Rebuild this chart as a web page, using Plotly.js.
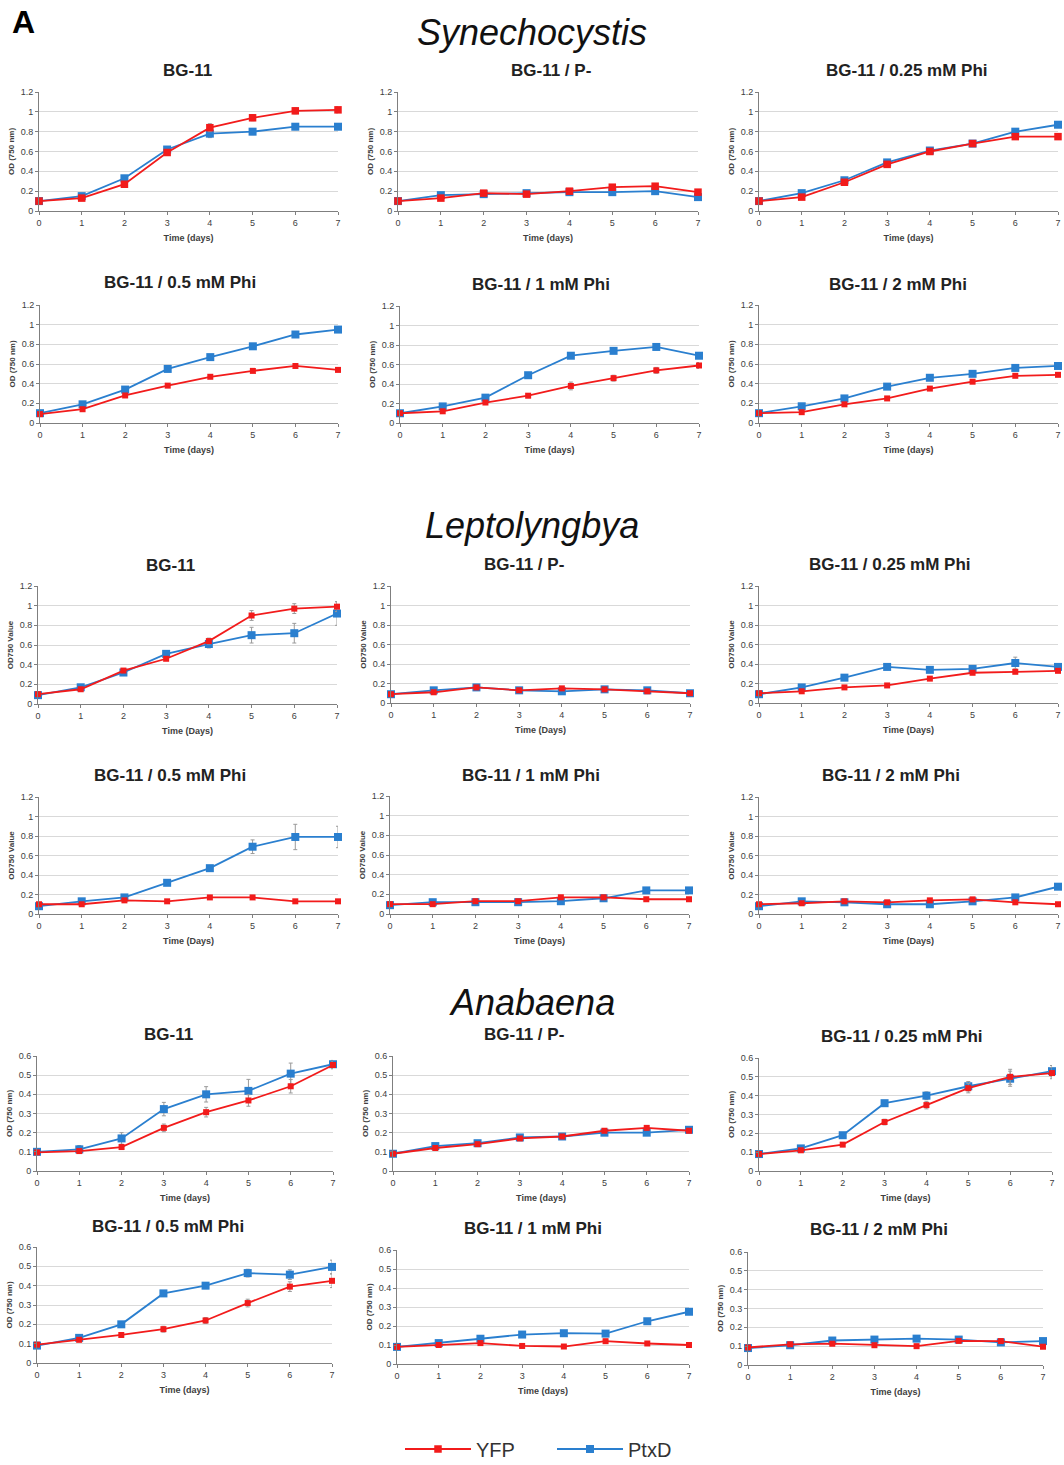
<!DOCTYPE html>
<html><head><meta charset="utf-8">
<script src="https://cdn.plot.ly/plotly-3.0.1.min.js"></script>
<style>html,body{margin:0;padding:0;background:#fff}#chart{width:1064px;height:1465px}</style>
</head><body><div id="chart"></div>
<script>
// ---------- DATA ----------
const days = [0, 1, 2, 3, 4, 5, 6, 7];
const seriesNames = ["YFP", "PtxD"];
const organisms = ["Synechocystis", "Leptolyngbya", "Anabaena"];
const conditions = ["BG-11", "BG-11 / P-", "BG-11 / 0.25 mM Phi", "BG-11 / 0.5 mM Phi", "BG-11 / 1 mM Phi", "BG-11 / 2 mM Phi"];

// Synechocystis
const syn_bg11_yfp   = [0.10, 0.13, 0.27, 0.59, 0.84, 0.94, 1.01, 1.02];
const syn_bg11_ptxd  = [0.10, 0.15, 0.33, 0.62, 0.78, 0.80, 0.85, 0.85];
const syn_pm_yfp     = [0.10, 0.13, 0.18, 0.17, 0.20, 0.24, 0.25, 0.19];
const syn_pm_ptxd    = [0.10, 0.16, 0.17, 0.18, 0.19, 0.19, 0.20, 0.14];
const syn_025_yfp    = [0.10, 0.14, 0.29, 0.47, 0.60, 0.68, 0.75, 0.75];
const syn_025_ptxd   = [0.10, 0.18, 0.31, 0.49, 0.61, 0.68, 0.80, 0.87];
const syn_05_yfp     = [0.09, 0.14, 0.28, 0.38, 0.47, 0.53, 0.58, 0.54];
const syn_05_ptxd    = [0.10, 0.19, 0.34, 0.55, 0.67, 0.78, 0.90, 0.95];
const syn_1_yfp      = [0.10, 0.12, 0.21, 0.28, 0.38, 0.46, 0.54, 0.59];
const syn_1_ptxd     = [0.10, 0.17, 0.26, 0.49, 0.69, 0.74, 0.78, 0.69];
const syn_2_yfp      = [0.10, 0.11, 0.19, 0.25, 0.35, 0.42, 0.48, 0.49];
const syn_2_ptxd     = [0.10, 0.17, 0.25, 0.37, 0.46, 0.50, 0.56, 0.58];
// Leptolyngbya
const lep_bg11_yfp   = [0.10, 0.15, 0.34, 0.46, 0.64, 0.90, 0.97, 0.99];
const lep_bg11_ptxd  = [0.09, 0.17, 0.32, 0.51, 0.61, 0.70, 0.72, 0.92];
const lep_pm_yfp     = [0.09, 0.11, 0.16, 0.13, 0.15, 0.14, 0.12, 0.10];
const lep_pm_ptxd    = [0.09, 0.13, 0.16, 0.13, 0.12, 0.14, 0.13, 0.10];
const lep_025_yfp    = [0.10, 0.12, 0.16, 0.18, 0.25, 0.31, 0.32, 0.33];
const lep_025_ptxd   = [0.09, 0.16, 0.26, 0.37, 0.34, 0.35, 0.41, 0.37];
const lep_05_yfp     = [0.10, 0.10, 0.14, 0.13, 0.17, 0.17, 0.13, 0.13];
const lep_05_ptxd    = [0.08, 0.13, 0.17, 0.32, 0.47, 0.69, 0.79, 0.79];
const lep_1_yfp      = [0.10, 0.10, 0.13, 0.13, 0.17, 0.17, 0.15, 0.15];
const lep_1_ptxd     = [0.09, 0.12, 0.12, 0.12, 0.13, 0.16, 0.24, 0.24];
const lep_2_yfp      = [0.10, 0.11, 0.13, 0.12, 0.14, 0.15, 0.12, 0.10];
const lep_2_ptxd     = [0.08, 0.13, 0.12, 0.10, 0.10, 0.13, 0.17, 0.28];
// Anabaena
const ana_bg11_yfp   = [0.097, 0.104, 0.125, 0.225, 0.307, 0.368, 0.442, 0.553];
const ana_bg11_ptxd  = [0.100, 0.113, 0.170, 0.323, 0.400, 0.418, 0.508, 0.557];
const ana_pm_yfp     = [0.090, 0.120, 0.140, 0.170, 0.180, 0.210, 0.225, 0.210];
const ana_pm_ptxd    = [0.090, 0.130, 0.145, 0.175, 0.180, 0.200, 0.200, 0.215];
const ana_025_yfp    = [0.090, 0.110, 0.140, 0.260, 0.350, 0.440, 0.500, 0.520];
const ana_025_ptxd   = [0.090, 0.120, 0.190, 0.360, 0.400, 0.450, 0.490, 0.530];
const ana_05_yfp     = [0.095, 0.120, 0.145, 0.175, 0.220, 0.310, 0.395, 0.425];
const ana_05_ptxd    = [0.090, 0.130, 0.200, 0.360, 0.400, 0.465, 0.457, 0.497];
const ana_1_yfp      = [0.090, 0.100, 0.110, 0.095, 0.092, 0.120, 0.108, 0.100];
const ana_1_ptxd     = [0.090, 0.110, 0.133, 0.155, 0.162, 0.160, 0.225, 0.275];
const ana_2_yfp      = [0.093, 0.110, 0.113, 0.105, 0.100, 0.128, 0.127, 0.097];
const ana_2_ptxd     = [0.090, 0.105, 0.130, 0.135, 0.140, 0.135, 0.120, 0.127];

// error bars (standard deviations read from the whiskers)
const err_small      = [0.01, 0.01, 0.01, 0.01, 0.01, 0.01, 0.01, 0.01];
const syn_bg11_err   = [0.01, 0.02, 0.02, 0.02, 0.04, 0.03, 0.03, 0.03];
const lep_bg11_yfp_e = [0.01, 0.01, 0.01, 0.01, 0.03, 0.05, 0.05, 0.05];
const lep_bg11_ptx_e = [0.01, 0.01, 0.02, 0.02, 0.04, 0.08, 0.10, 0.12];
const lep_05_ptxd_e  = [0.01, 0.01, 0.01, 0.02, 0.02, 0.07, 0.13, 0.11];
const lep_025_ptxd_e = [0.01, 0.01, 0.01, 0.02, 0.02, 0.03, 0.06, 0.02];
const ana_bg11_yfp_e = [0.01, 0.01, 0.01, 0.02, 0.025, 0.03, 0.035, 0.02];
const ana_bg11_ptx_e = [0.01, 0.02, 0.03, 0.035, 0.04, 0.06, 0.055, 0.02];
const ana_025_err    = [0.01, 0.01, 0.01, 0.015, 0.02, 0.025, 0.04, 0.03];
const ana_05_err     = [0.01, 0.01, 0.01, 0.015, 0.015, 0.02, 0.025, 0.035];

// ---------- BUILD ----------
const W = 1064, H = 1465;
const RED = "#f21b1b", BLUE = "#2a7fcf";
// panel geometry in page pixels: [x at day 0, x at day 7, y at top of range, y at 0]
const geom = [
  [39, 338, 92, 211], [398, 698, 92, 211], [759, 1058, 92, 211],
  [40, 338, 305, 423], [400, 699, 306, 423], [759, 1058, 305, 423],
  [38, 337, 586, 704], [391, 690, 586, 703], [759, 1058, 586, 703],
  [39, 338, 797, 914], [390, 689, 796, 914], [759, 1058, 797, 914],
  [37, 333, 1056, 1171], [393, 689, 1056, 1171], [759, 1052, 1058, 1171],
  [37, 332, 1247, 1363], [397, 689, 1250, 1364], [748, 1043, 1252, 1365]
];
const titlePos = [
  [187, 70], [551, 70], [907, 70], [180, 283], [541, 284], [898, 284],
  [170, 566], [524, 564], [890, 564], [170, 775], [531, 775], [891, 775],
  [168, 1034], [524, 1034], [902, 1036], [168, 1226], [533, 1228], [879, 1229]
];
const panelData = [
  [syn_bg11_yfp, syn_bg11_ptxd, syn_bg11_err, syn_bg11_err],
  [syn_pm_yfp, syn_pm_ptxd, err_small, err_small],
  [syn_025_yfp, syn_025_ptxd, err_small, err_small],
  [syn_05_yfp, syn_05_ptxd, err_small, err_small],
  [syn_1_yfp, syn_1_ptxd, syn_bg11_err, err_small],
  [syn_2_yfp, syn_2_ptxd, err_small, err_small],
  [lep_bg11_yfp, lep_bg11_ptxd, lep_bg11_yfp_e, lep_bg11_ptx_e],
  [lep_pm_yfp, lep_pm_ptxd, err_small, err_small],
  [lep_025_yfp, lep_025_ptxd, err_small, lep_025_ptxd_e],
  [lep_05_yfp, lep_05_ptxd, err_small, lep_05_ptxd_e],
  [lep_1_yfp, lep_1_ptxd, err_small, err_small],
  [lep_2_yfp, lep_2_ptxd, err_small, err_small],
  [ana_bg11_yfp, ana_bg11_ptxd, ana_bg11_yfp_e, ana_bg11_ptx_e],
  [ana_pm_yfp, ana_pm_ptxd, err_small, err_small],
  [ana_025_yfp, ana_025_ptxd, ana_025_err, ana_025_err],
  [ana_05_yfp, ana_05_ptxd, ana_05_err, ana_05_err],
  [ana_1_yfp, ana_1_ptxd, err_small, err_small],
  [ana_2_yfp, ana_2_ptxd, err_small, err_small]
];

const traces = [];
const layout = {
  width: W, height: H, margin: {l: 0, r: 0, t: 0, b: 0, autoexpand: false},
  paper_bgcolor: "#fff", plot_bgcolor: "#fff",
  font: {family: "Liberation Sans, Arial, sans-serif", color: "#333"},
  showlegend: true,
  legend: {orientation: "h", x: 400 / W, y: 1 - 1449 / H, xanchor: "left", yanchor: "middle",
           font: {size: 20, color: "#333"}, itemwidth: 66, entrywidth: 71, entrywidthmode: "pixels",
           bgcolor: "rgba(0,0,0,0)", tracegroupgap: 0},
  annotations: [], shapes: []
};

for (let i = 0; i < 18; i++) {
  const n = i + 1;
  const org = Math.floor(i / 6);
  const cond = conditions[i % 6];
  const g = geom[i];
  const ymax = org === 2 ? 0.6 : 1.2;
  const dtick = org === 2 ? 0.1 : 0.2;
  const xTitle = org === 1 ? "Time (Days)" : "Time (days)";
  const yTitle = org === 1 ? "OD750 Value" : "OD (750 nm)";
  const xa = "x" + (n === 1 ? "" : n), ya = "y" + (n === 1 ? "" : n);
  const [yfp, ptxd, eY, eP] = panelData[i];
  const redSize = i < 3 ? 7.5 : 6;

  traces.push({
    x: days, y: ptxd, xaxis: xa, yaxis: ya, type: "scatter", mode: "lines+markers",
    name: seriesNames[1], legendrank: 2, showlegend: i === 0, cliponaxis: false,
    line: {color: BLUE, width: 1.8}, marker: {symbol: "square", size: 8, color: BLUE},
    error_y: {type: "data", array: eP, visible: true, color: "#9a9a9a", thickness: 1, width: 2}
  });
  traces.push({
    x: days, y: yfp, xaxis: xa, yaxis: ya, type: "scatter", mode: "lines+markers",
    name: seriesNames[0], legendrank: 1, showlegend: i === 0, cliponaxis: false,
    line: {color: RED, width: 1.8}, marker: {symbol: "square", size: redSize, color: RED},
    error_y: {type: "data", array: eY, visible: true, color: "#9a9a9a", thickness: 1, width: 2}
  });

  layout["xaxis" + (n === 1 ? "" : n)] = {
    domain: [g[0] / W, g[1] / W], range: [0, 7], anchor: ya, tick0: 0, dtick: 1,
    showgrid: false, zeroline: false, showline: true, linecolor: "#7f7f7f", linewidth: 1,
    ticks: "outside", ticklen: 3, tickcolor: "#7f7f7f",
    tickfont: {size: 9, color: "#404040"},
    title: {text: "<b>" + xTitle + "</b>", font: {size: 9, color: "#404040"}, standoff: 7},
    automargin: false, fixedrange: true
  };
  layout["yaxis" + (n === 1 ? "" : n)] = {
    domain: [1 - g[3] / H, 1 - g[2] / H], range: [0, ymax], anchor: xa, tick0: 0, dtick: dtick,
    showgrid: true, gridcolor: "#d9d9d9", gridwidth: 1, zeroline: false,
    showline: true, linecolor: "#7f7f7f", linewidth: 1,
    ticks: "outside", ticklen: 3, tickcolor: "#7f7f7f",
    tickfont: {size: 9, color: "#404040"},
    title: {text: "<b>" + yTitle + "</b>", font: {size: 8, color: "#404040"}, standoff: 4},
    automargin: false, fixedrange: true
  };
  layout.annotations.push({
    xref: "paper", yref: "paper", x: titlePos[i][0] / W, y: 1 - titlePos[i][1] / H,
    xanchor: "center", yanchor: "middle", showarrow: false,
    text: "<b>" + cond + "</b>", font: {size: 17, color: "#222"}
  });
}

const sectionY = [32, 525, 1002];
organisms.forEach((o, k) => {
  layout.annotations.push({
    xref: "paper", yref: "paper", x: 532 / W, y: 1 - sectionY[k] / H,
    xanchor: "center", yanchor: "middle", showarrow: false,
    text: "<i>" + o + "</i>", font: {size: 36, color: "#111"}
  });
});
layout.annotations.push({
  xref: "paper", yref: "paper", x: 10 / W, y: 1 - 22 / H, xanchor: "left", yanchor: "middle",
  showarrow: false, text: "<b>A</b>", font: {size: 32, color: "#000"}
});

Plotly.newPlot("chart", traces, layout, {displayModeBar: false, staticPlot: true});
</script></body></html>
